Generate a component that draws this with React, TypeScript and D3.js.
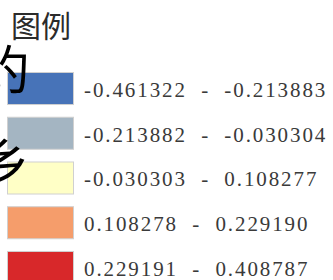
import React, { useEffect, useRef } from "react";
import * as d3 from "d3";

// legend classes (breaks)
const lowerBounds = ["-0.461322", "-0.213882", "-0.030303", "0.108278", "0.229191"];
const upperBounds = ["-0.213883", "-0.030304", "0.108277", "0.229190", "0.408787"];
const classColors = ["#4773b8", "#a4b5c2", "#ffffc6", "#f59d6b", "#d8282a"];

// map labels that stick in from the left edge
const mapLabels = ["约", "乡"];

const App = () => {
  const svgRef = useRef<SVGSVGElement>(null);

  useEffect(() => {
    const width = 333;
    const height = 280;

    const svg = d3.select(svgRef.current);
    svg.selectAll("*").remove();
    svg.attr("width", width).attr("height", height);

    svg.append("rect")
      .attr("width", width)
      .attr("height", height)
      .attr("fill", "#ffffff");

    const classes = lowerBounds.map((lo, i) => ({
      label: `${lo}  -  ${upperBounds[i]}`,
      color: classColors[i]
    }));

    const y = d3.scaleBand()
      .domain(classes.map(d => d.label))
      .range([72, 284])
      .paddingInner(0.262)
      .paddingOuter(0);

    // Title
    svg.append("text")
      .attr("x", 11)
      .attr("y", 37)
      .attr("font-family", "'Noto Sans CJK SC', sans-serif")
      .attr("font-size", 30)
      .attr("fill", "#2b2b2b")
      .text("图例");

    const rows = svg.selectAll("g.row")
      .data(classes)
      .join("g")
      .attr("class", "row")
      .attr("transform", d => `translate(0,${y(d.label)})`);

    rows.append("rect")
      .attr("x", 7.5)
      .attr("y", 0.5)
      .attr("width", 66)
      .attr("height", y.bandwidth() - 1)
      .attr("fill", d => d.color)
      .attr("stroke", "#d0d0d0")
      .attr("stroke-width", 1);

    rows.append("text")
      .attr("x", 84)
      .attr("y", 25)
      .attr("font-family", "'Liberation Serif', serif")
      .attr("font-size", 21)
      .attr("letter-spacing", 1.9)
      .attr("fill", "#3a3a3a")
      .style("white-space", "pre")
      .text(d => d.label);

    // Partial map labels
    svg.selectAll("text.map")
      .data(mapLabels)
      .join("text")
      .attr("class", "map")
      .attr("x", -22)
      .attr("y", (d, i) => 89 + i * 93)
      .attr("font-family", "'Noto Sans CJK SC', sans-serif")
      .attr("font-size", 52)
      .attr("fill", "#000000")
      .text(d => d);
  }, []);

  return (
    <div style={{ position: "fixed", left: 0, top: 0 }}>
      <svg ref={svgRef} style={{ display: "block" }}></svg>
    </div>
  );
};

export default App;
